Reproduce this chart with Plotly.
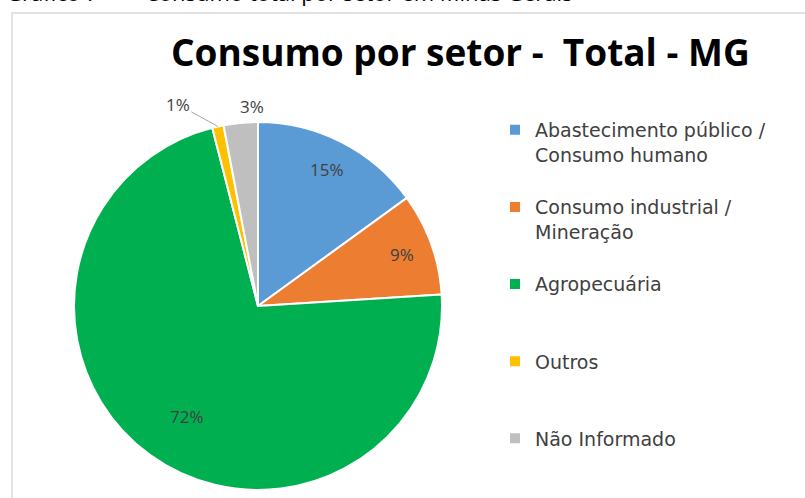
import math
import plotly.graph_objects as go

# setores e participação no consumo total (%)
setores = ["Abastecimento público /<br>Consumo humano<br> ",
           "Consumo industrial /<br>Mineração<br> ",
           "Agropecuária<br> <br> ",
           "Outros<br> <br> ",
           "Não Informado"]
consumo = [15, 9, 72, 1, 3]
cores = ["#5B9BD5", "#ED7D31", "#00B050", "#FFC000", "#BFBFBF"]
# onde cada rótulo fica: dentro da fatia, fora com linha de chamada, ou fora
rotulo = ["dentro", "dentro", "dentro", "chamada", "fora"]

W, H = 805, 498
dominio_x = [74 / W, 442 / W]
dominio_y = [8 / H, 376 / H]

fig = go.Figure()
fig.add_trace(go.Pie(
    labels=setores,
    values=consumo,
    sort=False,
    direction="clockwise",
    rotation=0,
    marker=dict(colors=cores, line=dict(color="white", width=2)),
    textinfo="none",
    hoverinfo="label+percent",
    domain=dict(x=dominio_x, y=dominio_y),
))

# rótulos de dados no estilo do Excel (posição calculada a partir dos valores)
cx = (dominio_x[0] + dominio_x[1]) / 2 * W
cy = (1 - (dominio_y[0] + dominio_y[1]) / 2) * H
r = (dominio_x[1] - dominio_x[0]) * W / 2
total = sum(consumo)
fonte_rotulo = dict(family="Open Sans", size=17, color="#404040")
anotacoes = []
acum = 0
for v, tipo in zip(consumo, rotulo):
    theta = 2 * math.pi * (acum + v / 2) / total
    acum += v
    txt = f"{round(100 * v / total)}%"
    s, c = math.sin(theta), -math.cos(theta)
    if tipo == "dentro":
        px, py = cx + 0.83 * r * s, cy + 0.83 * r * c
        anotacoes.append(dict(text=txt, x=px / W, y=1 - py / H, xref="paper", yref="paper",
                              showarrow=False, font=fonte_rotulo))
    elif tipo == "fora":
        px, py = cx + (r + 30) * s, cy + (r + 30) * c
        anotacoes.append(dict(text=txt, x=px / W, y=1 - py / H, xref="paper", yref="paper",
                              showarrow=False, font=fonte_rotulo))
    else:
        px, py = cx + r * s, cy + r * c
        anotacoes.append(dict(text=txt, x=px / W, y=1 - py / H, xref="paper", yref="paper",
                              showarrow=True, arrowhead=0, arrowwidth=1, arrowcolor="#A6A6A6",
                              standoff=0, ax=-40, ay=-22, font=fonte_rotulo))

anotacoes += [
    dict(text="<b>Consumo por setor - \u00a0Total - MG</b>",
         x=460 / W, y=1 - 52 / H, xref="paper", yref="paper",
         xanchor="center", yanchor="middle", showarrow=False,
         font=dict(family="Open Sans", size=37, color="black")),
    dict(text="Gráfico 7 –",
         x=4 / W, y=1 - 9 / H, xref="paper", yref="paper",
         xanchor="left", yanchor="bottom", showarrow=False,
         font=dict(family="Open Sans", size=22, color="black")),
    dict(text="Consumo total por setor em Minas Gerais",
         x=143 / W, y=1 - 9 / H, xref="paper", yref="paper",
         xanchor="left", yanchor="bottom", showarrow=False,
         font=dict(family="Open Sans", size=22, color="black")),
]

fig.update_layout(
    width=W, height=H,
    margin=dict(l=0, r=0, t=0, b=0),
    paper_bgcolor="white",
    font=dict(family="Open Sans", color="#404040"),
    showlegend=True,
    legend=dict(
        x=495 / W, y=1 - 111 / H, xanchor="left", yanchor="top",
        font=dict(family="DejaVu Sans", size=19, color="#404040"),
        valign="top", traceorder="normal",
    ),
    annotations=anotacoes,
    shapes=[
        dict(type="rect", xref="paper", yref="paper",
             x0=12 / W, x1=1.2, y0=-0.2, y1=1 - 13 / H,
             line=dict(color="#D9D9D9", width=1.5), fillcolor="rgba(0,0,0,0)"),
    ],
)

fig.write_html("out.html", config={"displayModeBar": False},
               post_script="document.body.style.margin='0';")
